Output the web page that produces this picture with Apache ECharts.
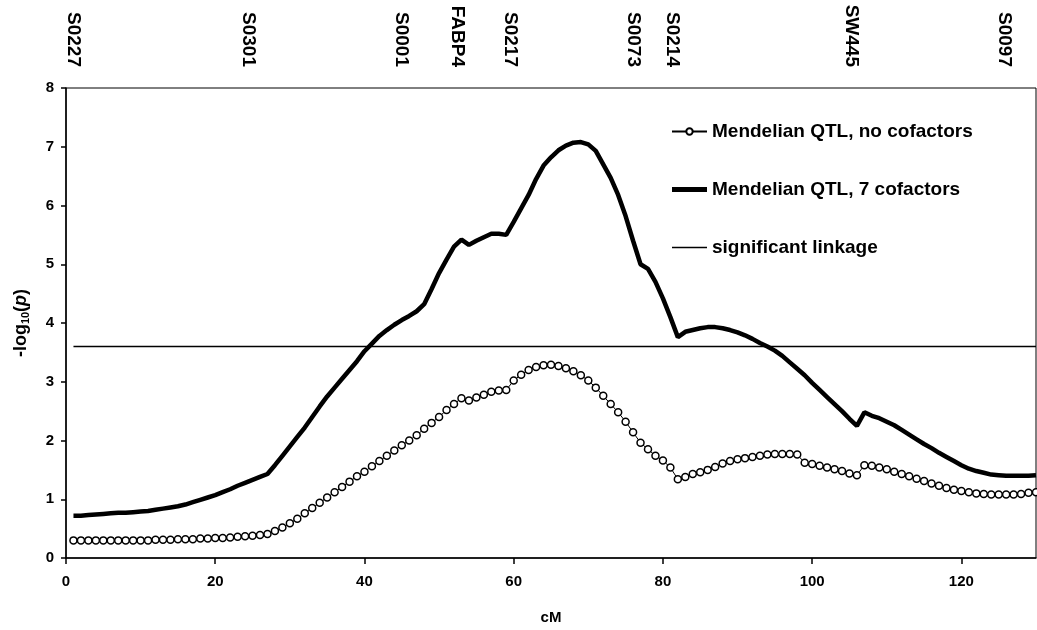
<!DOCTYPE html>
<html>
<head>
<meta charset="utf-8">
<script src="https://cdn.jsdelivr.net/npm/echarts@6/dist/echarts.min.js"></script>
<style>
  html, body { margin: 0; padding: 0; background: #fff; }
  #chart { width: 1037px; height: 630px; }
</style>
</head>
<body>
<div id="chart"></div>
<script>
// Map positions (cM) along the chromosome
const positions = [
  1, 2, 3, 4, 5, 6, 7, 8, 9, 10, 11, 12, 13, 14, 15, 16, 17, 18, 19, 20,
  21, 22, 23, 24, 25, 26, 27, 28, 29, 30, 31, 32, 33, 34, 35, 36, 37, 38, 39, 40,
  41, 42, 43, 44, 45, 46, 47, 48, 49, 50, 51, 52, 53, 54, 55, 56, 57, 58, 59, 60,
  61, 62, 63, 64, 65, 66, 67, 68, 69, 70, 71, 72, 73, 74, 75, 76, 77, 78, 79, 80,
  81, 82, 83, 84, 85, 86, 87, 88, 89, 90, 91, 92, 93, 94, 95, 96, 97, 98, 99, 100,
  101, 102, 103, 104, 105, 106, 107, 108, 109, 110, 111, 112, 113, 114, 115, 116, 117, 118, 119, 120,
  121, 122, 123, 124, 125, 126, 127, 128, 129, 130
];

// -log10(p), Mendelian QTL without cofactors
const noCofactors = [
  0.30, 0.30, 0.30, 0.30, 0.30, 0.30, 0.30, 0.30, 0.30, 0.30, 0.30, 0.31, 0.31, 0.31, 0.32, 0.32, 0.32, 0.33, 0.33, 0.34,
  0.34, 0.35, 0.36, 0.37, 0.38, 0.39, 0.41, 0.46, 0.52, 0.59, 0.67, 0.76, 0.85, 0.94, 1.03, 1.12, 1.21, 1.30, 1.39, 1.47,
  1.56, 1.65, 1.74, 1.83, 1.92, 2.00, 2.09, 2.20, 2.30, 2.40, 2.52, 2.62, 2.72, 2.68, 2.73, 2.78, 2.83, 2.85, 2.86, 3.02,
  3.12, 3.20, 3.25, 3.28, 3.29, 3.27, 3.23, 3.18, 3.11, 3.02, 2.90, 2.76, 2.62, 2.48, 2.32, 2.14, 1.96, 1.85, 1.74, 1.66,
  1.54, 1.34, 1.38, 1.43, 1.46, 1.50, 1.55, 1.61, 1.65, 1.68, 1.70, 1.72, 1.74, 1.76, 1.77, 1.77, 1.77, 1.76, 1.62, 1.60,
  1.57, 1.54, 1.51, 1.48, 1.44, 1.41, 1.58, 1.57, 1.54, 1.51, 1.47, 1.43, 1.39, 1.35, 1.31, 1.27, 1.23, 1.19, 1.16, 1.14,
  1.12, 1.10, 1.09, 1.08, 1.08, 1.08, 1.08, 1.09, 1.11, 1.12
];

// -log10(p), Mendelian QTL with 7 cofactors
const sevenCofactors = [
  0.72, 0.72, 0.73, 0.74, 0.75, 0.76, 0.77, 0.77, 0.78, 0.79, 0.80, 0.82, 0.84, 0.86, 0.88, 0.91, 0.95, 0.99, 1.03, 1.07,
  1.12, 1.17, 1.23, 1.28, 1.33, 1.38, 1.43, 1.58, 1.74, 1.90, 2.06, 2.22, 2.40, 2.58, 2.75, 2.90, 3.05, 3.20, 3.35, 3.52,
  3.65, 3.78, 3.88, 3.97, 4.05, 4.12, 4.20, 4.32, 4.58, 4.85, 5.08, 5.30, 5.42, 5.33, 5.40, 5.46, 5.52, 5.52, 5.50, 5.72,
  5.95, 6.18, 6.45, 6.68, 6.82, 6.94, 7.02, 7.07, 7.08, 7.04, 6.93, 6.70, 6.47, 6.18, 5.82, 5.40, 5.00, 4.92, 4.70, 4.42,
  4.10, 3.76, 3.85, 3.88, 3.91, 3.93, 3.93, 3.91, 3.88, 3.84, 3.79, 3.73, 3.66, 3.60, 3.53, 3.44, 3.33, 3.22, 3.11, 2.98,
  2.86, 2.74, 2.62, 2.50, 2.37, 2.25, 2.48, 2.42, 2.38, 2.32, 2.26, 2.18, 2.10, 2.02, 1.94, 1.87, 1.79, 1.72, 1.65, 1.58,
  1.52, 1.48, 1.45, 1.42, 1.41, 1.40, 1.40, 1.40, 1.40, 1.41
];

// Significance threshold
const thresholdX = [1, 130];
const thresholdY = [3.6, 3.6];

// Genetic markers shown along the top edge
const markerNames = ['S0227', 'S0301', 'S0001', 'FABP4', 'S0217', 'S0073', 'S0214', 'SW445', 'S0097'];
const markerPos = [1, 24.4, 44.9, 52.5, 59.6, 76, 81.2, 105.3, 125.7];

const seriesNames = ['Mendelian QTL, no cofactors', 'Mendelian QTL, 7 cofactors', 'significant linkage'];

const FONT = '"Liberation Sans", Arial, Helvetica, sans-serif';

function pairs(xs, ys) {
  return xs.map((x, i) => [x, ys[i]]);
}

const chart = echarts.init(document.getElementById('chart'), null, { renderer: 'canvas' });

chart.setOption({
  backgroundColor: '#ffffff',
  animation: false,
  textStyle: { fontFamily: FONT, color: '#000' },
  grid: {
    left: 66, right: 1, top: 88, bottom: 72,
    show: true, borderColor: '#000', borderWidth: 1, backgroundColor: 'transparent'
  },
  legend: {
    data: [
      { name: seriesNames[0] },
      { name: seriesNames[1], icon: 'path://M0,0 L36,0 L36,5 L0,5 Z' },
      { name: seriesNames[2], icon: 'path://M0,0 L36,0 L36,1.5 L0,1.5 Z' }
    ],
    orient: 'vertical',
    left: 671,
    top: 122,
    padding: 0,
    itemWidth: 35,
    itemHeight: 8,
    itemGap: 39,
    textStyle: { fontFamily: FONT, fontSize: 19, fontWeight: 'bold', color: '#000' }
  },
  xAxis: [
    {
      type: 'value',
      min: 0, max: 130, interval: 20,
      name: 'cM',
      nameLocation: 'middle',
      nameGap: 52,
      nameTextStyle: { fontFamily: FONT, fontSize: 15, fontWeight: 'bold', color: '#000' },
      axisLine: { show: true, lineStyle: { color: '#000', width: 1.5 } },
      axisTick: { show: true, inside: false, length: 6, lineStyle: { color: '#000', width: 1.5 } },
      axisLabel: {
        margin: 16, showMaxLabel: false,
        fontFamily: FONT, fontSize: 15, fontWeight: 'bold', color: '#000'
      },
      splitLine: { show: false }
    },
    {
      type: 'value',
      position: 'top',
      min: 0, max: 130,
      axisLine: { show: false },
      axisTick: { show: false },
      splitLine: { show: false },
      axisLabel: {
        customValues: markerPos,
        rotate: 90,
        margin: 21,
        fontFamily: FONT, fontSize: 19, fontWeight: 'bold', color: '#000',
        formatter: function (v) {
          const i = markerPos.indexOf(v);
          return i >= 0 ? markerNames[i] : '';
        }
      }
    }
  ],
  yAxis: {
    type: 'value',
    min: 0, max: 8, interval: 1,
    name: '-log{s|10}({i|p})',
    nameLocation: 'middle',
    nameRotate: 90,
    nameGap: 35,
    nameTextStyle: {
      fontFamily: FONT, fontSize: 18, fontWeight: 'bold', color: '#000',
      rich: {
        s: { fontFamily: FONT, fontSize: 11, fontWeight: 'bold', color: '#000', padding: [8, 0, 0, 0] },
        i: { fontFamily: FONT, fontSize: 18, fontWeight: 'bold', fontStyle: 'italic', color: '#000' }
      }
    },
    axisLine: { show: true, lineStyle: { color: '#000', width: 1.5 } },
    axisTick: { show: true, inside: false, length: 5, lineStyle: { color: '#000', width: 1.5 } },
    axisLabel: { margin: 12, fontFamily: FONT, fontSize: 15, fontWeight: 'bold', color: '#000' },
    splitLine: { show: false }
  },
  series: [
    {
      name: seriesNames[0],
      type: 'line',
      data: pairs(positions, noCofactors),
      symbol: 'circle',
      symbolSize: 7,
      showAllSymbol: true,
      itemStyle: { color: '#fff', borderColor: '#000', borderWidth: 1.5 },
      lineStyle: { color: '#000', width: 1 },
      z: 3
    },
    {
      name: seriesNames[1],
      type: 'line',
      data: pairs(positions, sevenCofactors),
      symbol: 'none',
      itemStyle: { color: '#000' },
      lineStyle: { color: '#000', width: 4.5 },
      z: 4
    },
    {
      name: seriesNames[2],
      type: 'line',
      data: pairs(thresholdX, thresholdY),
      symbol: 'none',
      itemStyle: { color: '#000' },
      lineStyle: { color: '#000', width: 1.5 },
      z: 2
    }
  ]
});
</script>
</body>
</html>
